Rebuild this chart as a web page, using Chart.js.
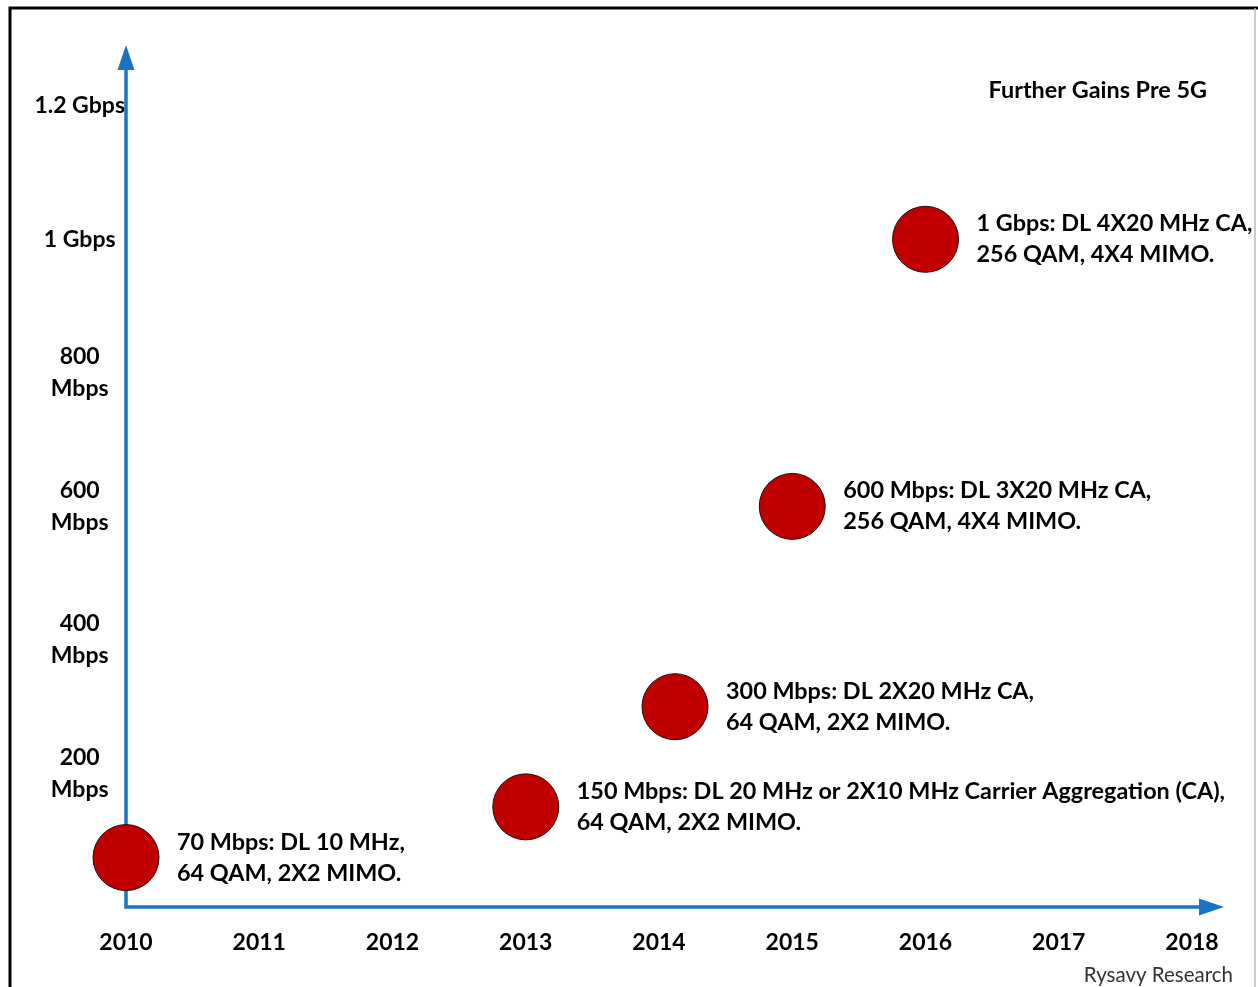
<!DOCTYPE html>
<html>
<head>
<meta charset="utf-8">
<script src="https://cdn.jsdelivr.net/npm/chart.js@4/dist/chart.umd.min.js"></script>
<style>
  html, body { margin: 0; padding: 0; background: #fff; }
  #wrap { width: 1258px; height: 987px; }
</style>
</head>
<body>
<div id="wrap"><canvas id="speedChart" width="1258" height="987"></canvas></div>
<script>
// data
const years = [2010, 2013, 2014.12, 2015, 2016];
const speeds = [74, 150, 300, 600, 1000];
const notes = [
  ['70 Mbps: DL 10 MHz,', '64 QAM, 2X2 MIMO.'],
  ['150 Mbps: DL 20 MHz or 2X10 MHz Carrier Aggregation (CA),', '64 QAM, 2X2 MIMO.'],
  ['300 Mbps: DL 2X20 MHz CA,', '64 QAM, 2X2 MIMO.'],
  ['600 Mbps: DL 3X20 MHz CA,', '256 QAM, 4X4 MIMO.'],
  ['1 Gbps: DL 4X20 MHz CA,', '256 QAM, 4X4 MIMO.']
];
const xTicks = [2010, 2011, 2012, 2013, 2014, 2015, 2016, 2017, 2018];
const yTicks = [200, 400, 600, 800, 1000, 1200];
const yTickLabels = [['200', 'Mbps'], ['400', 'Mbps'], ['600', 'Mbps'], ['800', 'Mbps'], '1 Gbps', '1.2 Gbps'];
const chartTitle = 'Further Gains Pre 5G';
const credit = 'Rysavy Research';

const FONT = 'Lato, "Open Sans", sans-serif';
const AXIS_BLUE = '#1a74c6';
const BUBBLE_R = 33;

const decorations = {
  id: 'decorations',
  beforeDraw(chart) {
    const ctx = chart.ctx;
    ctx.save();
    ctx.fillStyle = '#fff';
    ctx.fillRect(0, 0, chart.width, chart.height);
    // frame
    ctx.strokeStyle = '#000';
    ctx.lineWidth = 3;
    ctx.beginPath();
    ctx.moveTo(10, chart.height);
    ctx.lineTo(10, 8);
    ctx.lineTo(chart.width, 8);
    ctx.stroke();
    ctx.strokeStyle = '#bbb';
    ctx.lineWidth = 1.5;
    ctx.beginPath();
    ctx.moveTo(1255, 8);
    ctx.lineTo(1255, chart.height);
    ctx.stroke();
    ctx.restore();
  },
  beforeDatasetsDraw(chart) {
    const ctx = chart.ctx;
    const a = chart.chartArea;
    const x0 = chart.scales.x.getPixelForValue(2010);
    const y0 = chart.scales.y.getPixelForValue(0);
    ctx.save();
    ctx.strokeStyle = AXIS_BLUE;
    ctx.fillStyle = AXIS_BLUE;
    ctx.lineWidth = 3.5;
    ctx.beginPath();
    ctx.moveTo(x0, a.top + 20);
    ctx.lineTo(x0, y0);
    ctx.lineTo(a.right - 20, y0);
    ctx.stroke();
    // arrow heads
    ctx.beginPath();
    ctx.moveTo(x0, a.top);
    ctx.lineTo(x0 - 8.5, a.top + 25);
    ctx.lineTo(x0 + 8.5, a.top + 25);
    ctx.closePath();
    ctx.fill();
    ctx.beginPath();
    ctx.moveTo(a.right, y0);
    ctx.lineTo(a.right - 25, y0 - 8.5);
    ctx.lineTo(a.right - 25, y0 + 8.5);
    ctx.closePath();
    ctx.fill();
    ctx.restore();
  },
  afterDatasetsDraw(chart) {
    const ctx = chart.ctx;
    const meta = chart.getDatasetMeta(0);
    ctx.save();
    ctx.fillStyle = '#000';
    ctx.font = 'bold 23.4px ' + FONT;
    ctx.textBaseline = 'middle';
    ctx.textAlign = 'left';
    meta.data.forEach((pt, i) => {
      const tx = pt.x + BUBBLE_R + 18;
      ctx.fillText(notes[i][0], tx, pt.y - 15.5);
      ctx.fillText(notes[i][1], tx, pt.y + 15.5);
    });
    ctx.textAlign = 'right';
    ctx.fillText(chartTitle, 1207, 90);
    ctx.font = '20.5px ' + FONT;
    ctx.fillStyle = '#333';
    ctx.fillText(credit, 1233, 975);
    ctx.restore();
  }
};

new Chart(document.getElementById('speedChart').getContext('2d'), {
  type: 'scatter',
  data: {
    datasets: [{
      data: years.map((y, i) => ({ x: y, y: speeds[i] })),
      pointRadius: BUBBLE_R,
      pointBackgroundColor: '#c00000',
      pointBorderColor: '#2a0a0a',
      pointBorderWidth: 1,
      clip: false
    }]
  },
  options: {
    responsive: false,
    animation: false,
    events: [],
    layout: { padding: { top: 45, right: 33, bottom: 0, left: 0 } },
    plugins: { legend: { display: false }, tooltip: { enabled: false } },
    scales: {
      x: {
        type: 'linear',
        min: 2010,
        max: 2018.24,
        grid: { display: false, drawTicks: false },
        border: { display: false },
        afterBuildTicks: s => { s.ticks = xTicks.map(v => ({ value: v })); },
        afterFit: s => { s.height = 80; },
        ticks: {
          padding: 22,
          color: '#000',
          font: { family: FONT, size: 23, weight: 'bold' },
          callback: v => String(v),
          maxRotation: 0
        }
      },
      y: {
        min: 0,
        max: 1291,
        grid: { display: false, drawTicks: false },
        border: { display: false },
        afterBuildTicks: s => { s.ticks = yTicks.map(v => ({ value: v })); },
        afterFit: s => { s.width = 126; },
        ticks: {
          padding: 1,
          crossAlign: 'center',
          color: '#000',
          font: { family: FONT, size: 23, weight: 'bold', lineHeight: 1.4 },
          callback: v => yTickLabels[yTicks.indexOf(v)]
        }
      }
    }
  },
  plugins: [decorations]
});
</script>
</body>
</html>
